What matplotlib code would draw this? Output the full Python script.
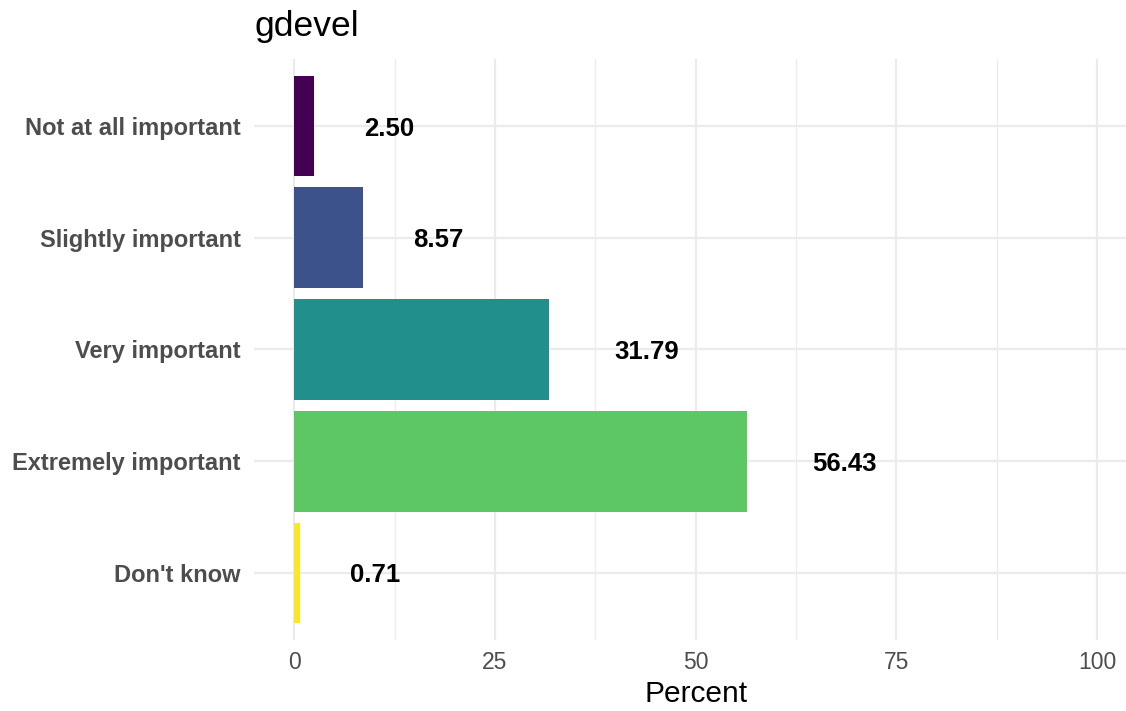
import numpy as np
import matplotlib
matplotlib.use("Agg")
import matplotlib.pyplot as plt
from matplotlib.transforms import offset_copy

plt.rcParams['font.family'] = ['Liberation Sans', 'DejaVu Sans']

categories = ["Not at all important", "Slightly important", "Very important",
              "Extremely important", "Don't know"]
percent = [2.50, 8.57, 31.79, 56.43, 0.71]
colors = ["#440154", "#3B528B", "#21908C", "#5DC863", "#FDE725"]
x_ticks = [0, 25, 50, 75, 100]
title = "gdevel"

W, H = 1126, 711
fig = plt.figure(figsize=(W / 100, H / 100), dpi=100)
ax = fig.add_axes([254 / W, 71 / H, 1 - 254 / W, (640 - 59) / H])

y = np.arange(len(categories))[::-1]
ax.barh(y, percent, height=0.9, color=colors, zorder=2)

ax.set_xlim(-5, 103.6)
ax.set_ylim(-0.6, len(categories) - 0.4)

# value labels: left edge one text-width past the bar end (like hjust = -1)
renderer = fig.canvas.get_renderer()
for yi, v in zip(y, percent):
    t = ax.text(v, yi, f"{v:.2f}", ha='left', va='center_baseline',
                fontsize=18.5, fontweight='bold', color='black', zorder=3)
    w = t.get_window_extent(renderer).width
    t.set_transform(offset_copy(ax.transData, fig=fig, x=w, y=0, units='dots'))

ax.set_yticks(y)
ax.set_yticklabels(categories, fontsize=17, fontweight='bold', color='#4D4D4D')
ax.set_xticks(x_ticks)
ax.set_xticklabels([str(t) for t in x_ticks], fontsize=16.5, color='#4D4D4D')
ax.set_xticks(np.arange(12.5, 100, 25), minor=True)

ax.tick_params(axis='both', which='both', length=0)
ax.tick_params(axis='y', pad=9.5)
ax.tick_params(axis='x', pad=8)

ax.grid(True, which='major', color='#EBEBEB', linewidth=1.6, zorder=0)
ax.grid(True, which='minor', axis='x', color='#EBEBEB', linewidth=0.9, zorder=0)
ax.set_axisbelow(True)
for s in ax.spines.values():
    s.set_visible(False)

ax.set_xlabel("Percent", fontsize=21.5, color='black')
ax.xaxis.set_label_coords((696 - 254) / (W - 254), -0.068)
fig.text(254 / W, 1 - 36 / H, title, fontsize=25.5, color='black',
         ha='left', va='baseline')

fig.savefig("out.png", dpi=100, facecolor='white')
